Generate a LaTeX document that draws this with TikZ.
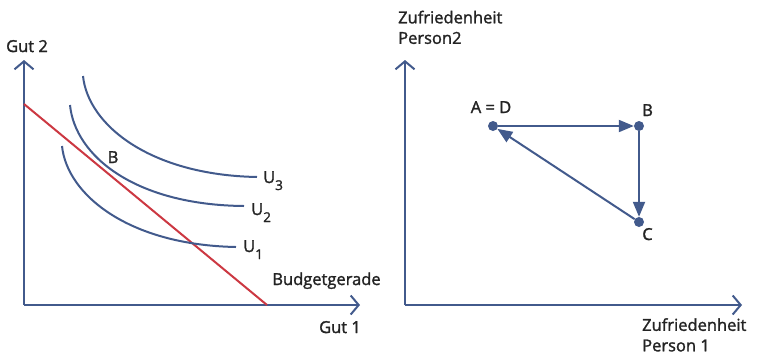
\documentclass[tikz,border=0pt]{standalone}
\usepackage{fontspec}
\setmainfont{Open Sans}[FakeBold=1.6]
\usetikzlibrary{arrows.meta}
\definecolor{achse}{RGB}{66,90,140}
\definecolor{budget}{RGB}{204,56,66}
\definecolor{schrift}{RGB}{35,35,35}

\begin{document}
\begin{tikzpicture}[x=1pt,y=-1pt,
  achsen/.style={achse,line width=2pt,-{Straight Barb[length=8pt,width=19pt]}},
  kurve/.style={achse,line width=2pt},
  pfeil/.style={achse,line width=2pt,-{Triangle[length=15pt,width=12pt]}},
  punkt/.style={circle,fill=achse,inner sep=0pt,minimum size=10pt},
  txt/.style={text=schrift,inner sep=0pt,font=\fontsize{16.5}{20.5}\selectfont}]
  \useasboundingbox (0,0) rectangle (762,354);

  % Achsen links
  \coordinate (o1) at (24,305);
  \coordinate (y1) at (24,60);
  \coordinate (x1) at (360,305);
  \draw[achsen] (o1) -- (y1);
  \draw[achsen] (o1) -- (x1);
  \node[txt,anchor=base] (gut2) at (27,52) {Gut 2};
  \node[txt,anchor=base] (gut1) at (340,333) {Gut 1};

  % Budgetgerade
  \coordinate (r1) at (24,104);
  \coordinate (r2) at (267,305);
  \draw[budget,line width=2pt] (r1) -- (r2);
  \node[txt,anchor=base] (budg) at (326.5,285) {Budgetgerade};

  % Indifferenzkurven
  \draw[kurve] (62,146) .. controls (67,195) and (129,245) .. (236,247) coordinate (e1);
  \draw[kurve] (70,105) .. controls (75,156) and (135,205) .. (244,206) coordinate (e2);
  \draw[kurve] (83,76) .. controls (88,125) and (150,175) .. (257,177) coordinate (e3);
  \node[txt,anchor=base west] (u1) at (243,252) {U\raisebox{-7pt}{\fontsize{13.5}{13}\selectfont 1}};
  \node[txt,anchor=base west] (u2) at (251,215) {U\raisebox{-7pt}{\fontsize{13.5}{13}\selectfont 2}};
  \node[txt,anchor=base west] (u3) at (263,183) {U\raisebox{-7pt}{\fontsize{13.5}{13}\selectfont 3}};
  \node[txt,anchor=base] (lb) at (113,163) {B};

  % Achsen rechts
  \coordinate (o2) at (405,305);
  \coordinate (y2) at (405,60);
  \coordinate (x2) at (742,305);
  \draw[achsen] (o2) -- (y2);
  \draw[achsen] (o2) -- (x2);
  \node[txt,align=left,anchor=north west] (p2) at (398,10.5) {Zufriedenheit\\Person2};
  \node[txt,align=left,anchor=north west] (p1) at (642,318) {Zufriedenheit\\Person 1};

  % Punkte
  \node[punkt] (A) at (493,126) {};
  \node[punkt] (B) at (639,126) {};
  \node[punkt] (C) at (639,222) {};
  \node[txt,anchor=base] (lA) at (491,113) {A = D};
  \node[txt,anchor=base] (lB) at (647.5,116) {B};
  \node[txt,anchor=base] (lC) at (647.5,240) {C};
  \draw[pfeil] (A) -- (B);
  \draw[pfeil] (B) -- (C);
  \draw[pfeil] (C) -- (A);
\end{tikzpicture}
\end{document}
